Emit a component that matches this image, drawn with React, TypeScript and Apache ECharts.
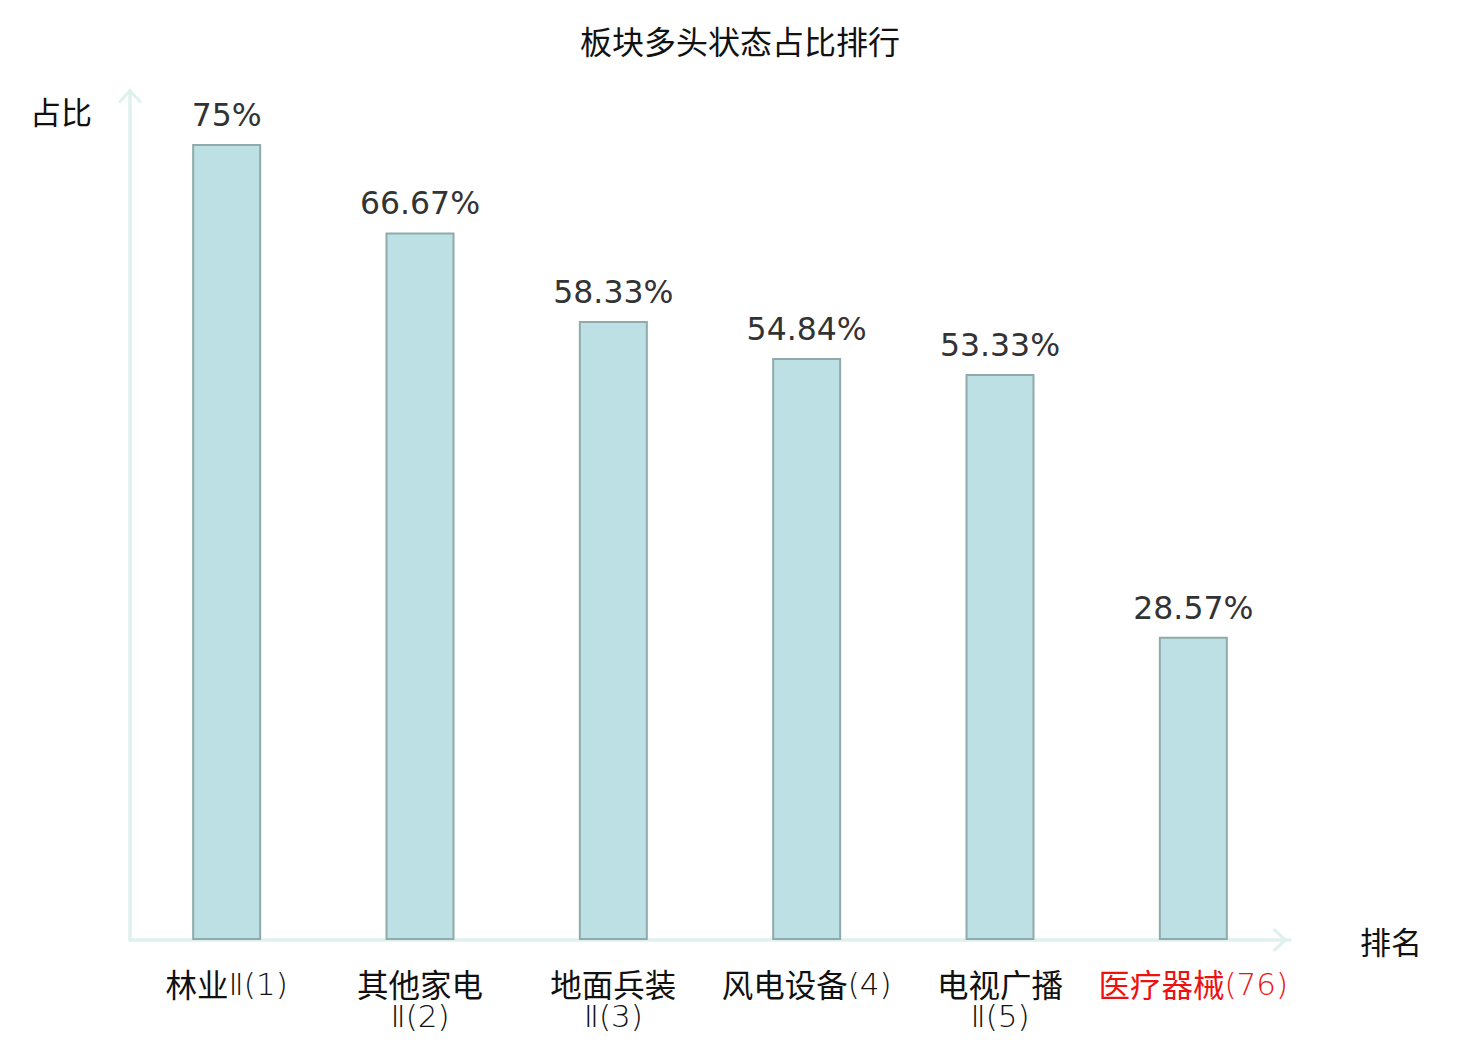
import React, { useEffect, useRef } from "react";
import * as echarts from "echarts";

const titleText = "板块多头状态占比排行";
const categories = ["林业Ⅱ(1)", "其他家电Ⅱ(2)", "地面兵装Ⅱ(3)", "风电设备(4)", "电视广播Ⅱ(5)", "医疗器械(76)"];
const highlighted = ["医疗器械(76)"];
const values = [75, 66.67, 58.33, 54.84, 53.33, 28.57];
const yName = "占比";
const xName = "排名";

const CJK = "'Noto Sans CJK SC', 'Noto Sans', sans-serif";
const LATIN = "'DejaVu Sans ExtraLight', 'DejaVu Sans', sans-serif";
const chevron = "path://M12,0 L24,13 L21.8,15.2 L12,4.4 L2.2,15.2 L0,13 Z";

function formatCategory(v: string): string {
  const m = v.match(/^([\u4e00-\u9fff]+)(.*)$/);
  if (!m) return v;
  const head = m[1];
  const tail = m[2];
  const sep = head.length >= 4 && tail.startsWith("Ⅱ") ? "\n" : "";
  return `{c|${head}}${sep}{l|${tail}}`;
}

export default function App() {
  const ref = useRef<HTMLDivElement>(null);
  useEffect(() => {
    if (!ref.current) return;
    const chart = echarts.init(ref.current, undefined, { renderer: "svg" });
    chart.setOption({
      animation: false,
      backgroundColor: "#ffffff",
      title: {
        text: titleText,
        left: "center",
        top: 19,
        textStyle: { fontFamily: CJK, fontSize: 32, fontWeight: "normal", color: "#111" },
      },
      grid: { left: 130, right: 190, top: 91, bottom: 100, containLabel: false },
      xAxis: {
        type: "category",
        data: categories.map((c) =>
          highlighted.includes(c) ? { value: c, textStyle: { color: "#ee1111" } } : c
        ),
        name: xName,
        nameLocation: "end",
        nameGap: 70,
        nameTextStyle: { fontFamily: CJK, fontSize: 31, color: "#111", verticalAlign: "middle" },
        axisLine: {
          show: true,
          symbol: ["none", chevron],
          symbolSize: [24, 20],
          symbolOffset: [0, -10],
          lineStyle: { color: "#dff1ee", width: 3.5 },
        },
        axisTick: { show: false },
        axisLabel: {
          interval: 0,
          margin: 26,
          fontFamily: CJK,
          fontSize: 31.5,
          lineHeight: 33,
          color: "#111",
          formatter: formatCategory,
          rich: {
            c: { fontFamily: CJK, fontSize: 31.5, lineHeight: 33 },
            l: { fontFamily: LATIN, fontWeight: 200, fontSize: 31, lineHeight: 30, padding: [3, 0, 0, 0] },
          },
        },
      },
      yAxis: {
        type: "value",
        min: 0,
        max: 80,
        name: yName,
        nameLocation: "end",
        nameGap: -19,
        nameTextStyle: {
          fontFamily: CJK,
          fontSize: 31,
          color: "#111",
          align: "right",
          verticalAlign: "middle",
          padding: [0, 38, 0, 0],
        },
        axisLine: {
          show: true,
          symbol: ["none", chevron],
          symbolSize: [24, 16],
          symbolOffset: [0, -5],
          lineStyle: { color: "#dff1ee", width: 3.5 },
        },
        axisTick: { show: false },
        axisLabel: { show: false },
        splitLine: { show: false },
      },
      series: [
        {
          type: "bar",
          data: values,
          barWidth: 69,
          itemStyle: { color: "#bce0e3", borderColor: "#8eaaaa", borderWidth: 2 },
          label: {
            show: true,
            position: "top",
            distance: 13,
            formatter: "{c}%",
            fontFamily: "'DejaVu Sans', sans-serif",
            fontSize: 31.5,
            color: "#333",
          },
        },
      ],
    });
    return () => chart.dispose();
  }, []);
  return (
    <div
      ref={ref}
      style={{ position: "fixed", left: 0, top: 0, width: 1480, height: 1040 }}
    />
  );
}
